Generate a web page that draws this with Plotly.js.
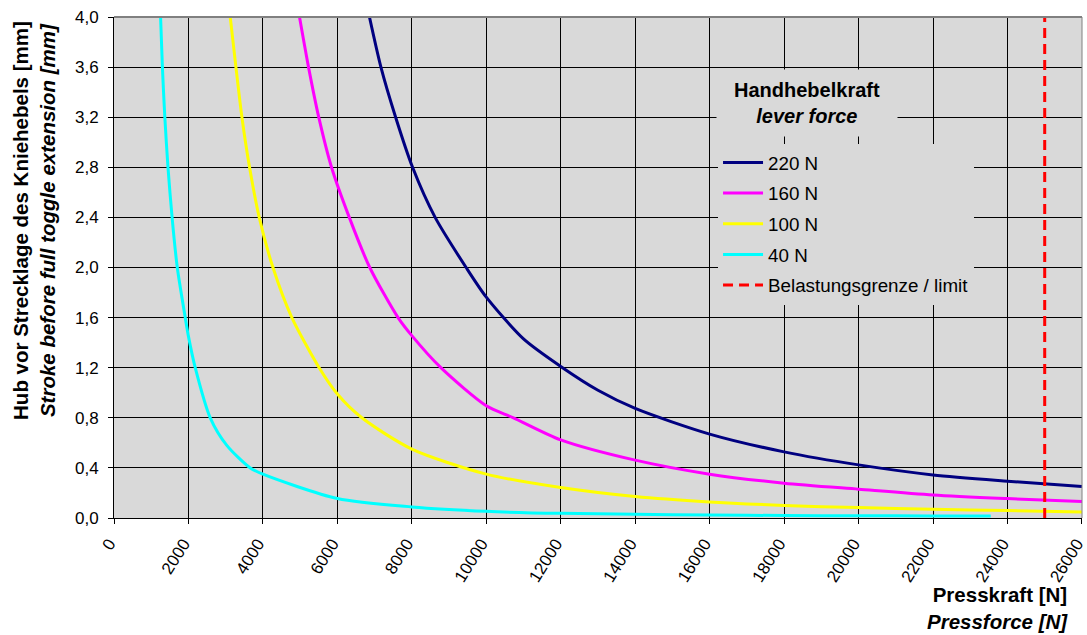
<!DOCTYPE html>
<html>
<head>
<meta charset="utf-8">
<script src="https://cdn.plot.ly/plotly-3.0.1.min.js"></script>
<style>html,body{margin:0;padding:0;background:#fff;}#chart{width:1087px;height:635px;}</style>
</head>
<body>
<div id="chart"></div>
<script>
// Presskraft [N] / Hub [mm] per lever force
const x220 = [6862, 7170, 7565, 8020, 8626, 9458, 10000, 11000, 12000, 13000, 14000, 16000, 18000, 20000, 22000, 24000, 26000];
const y220 = [4.0, 3.6, 3.2, 2.8, 2.4, 2.0, 1.763, 1.43, 1.21, 1.02, 0.875, 0.67, 0.528, 0.424, 0.344, 0.294, 0.251];

const x160 = [4983, 5225, 5500, 5843, 6320, 6870, 7630, 8000, 8780, 10000, 10730, 12000, 14000, 16000, 18000, 20000, 22000, 24000, 26000];
const y160 = [4.0, 3.6, 3.2, 2.8, 2.4, 2.0, 1.6, 1.456, 1.2, 0.896, 0.8, 0.624, 0.462, 0.35, 0.278, 0.23, 0.184, 0.155, 0.131];

const x100 = [3122, 3275, 3436, 3641, 3901, 4270, 4778, 5511, 6000, 6658, 8000, 10000, 12000, 14000, 16000, 18000, 20000, 22000, 24000, 26000];
const y100 = [4.0, 3.6, 3.2, 2.8, 2.4, 2.0, 1.6, 1.2, 0.99, 0.8, 0.55, 0.35, 0.243, 0.171, 0.128, 0.10, 0.083, 0.07, 0.059, 0.048];

const x40 = [1251, 1300, 1365, 1450, 1560, 1700, 1914, 2000, 2182, 2585, 3030, 3660, 4000, 6000, 8000, 10000, 12000, 14000, 16000, 18000, 20000, 22000, 23550];
const y40 = [4.0, 3.6, 3.2, 2.8, 2.4, 2.0, 1.6, 1.45, 1.2, 0.8, 0.58, 0.4, 0.35, 0.155, 0.088, 0.053, 0.037, 0.03, 0.024, 0.02, 0.018, 0.016, 0.015];

const limitX = [25000, 25000];
const limitY = [0, 4.0];

const seriesNames = ['220 N', '160 N', '100 N', '40 N', 'Belastungsgrenze / limit'];
const seriesColors = ['#000080', '#ff00ff', '#ffff00', '#00ffff', '#ff0000'];

const xTicks = [0, 2000, 4000, 6000, 8000, 10000, 12000, 14000, 16000, 18000, 20000, 22000, 24000, 26000];
const yTicks = [0, 0.4, 0.8, 1.2, 1.6, 2.0, 2.4, 2.8, 3.2, 3.6, 4.0];

const FONT = 'Arial, "Liberation Sans", sans-serif';

const xs = [x220, x160, x100, x40, limitX];
const ys = [y220, y160, y100, y40, limitY];

const traces = xs.map((xv, i) => ({
  type: 'scatter',
  mode: 'lines',
  x: xv,
  y: ys[i],
  name: seriesNames[i],
  legendgroup: 'g' + i,
  line: {
    color: seriesColors[i],
    width: 3,
    shape: i < 4 ? 'spline' : 'linear',
    smoothing: 0.75,
    dash: i === 4 ? '10px,6px' : 'solid'
  },
  hoverinfo: 'x+y+name'
}));

const layout = {
  width: 1087,
  height: 635,
  margin: {l: 114, r: 5, t: 17, b: 117},
  paper_bgcolor: '#ffffff',
  plot_bgcolor: '#d9d9d9',
  separators: ',.',
  font: {family: FONT, size: 17, color: '#000'},
  showlegend: true,
  legend: {
    x: 0.624, y: 0.747, xanchor: 'left', yanchor: 'top',
    bgcolor: '#d9d9d9',
    borderwidth: 0,
    font: {family: FONT, size: 18.8, color: '#000'},
    tracegroupgap: 3.2,
    itemwidth: 40
  },
  xaxis: {
    range: [0, 26002],
    tickvals: xTicks,
    tickformat: 'd',
    tickangle: -58,
    ticklabeloverflow: 'allow',
    ticklabelshift: -5,
    ticklabelstandoff: 3,
    ticks: 'outside', ticklen: 5, tickcolor: '#000', tickwidth: 1,
    showgrid: true, gridcolor: '#000', gridwidth: 1,
    zeroline: false,
    showline: true, linecolor: '#000', linewidth: 1,
    tickfont: {family: FONT, size: 17, color: '#000'},
    fixedrange: true
  },
  yaxis: {
    range: [0, 4.0],
    tickvals: yTicks,
    tickformat: '.1f',
    ticks: 'outside', ticklen: 5, tickcolor: '#000', tickwidth: 1,
    ticklabelstandoff: 6,
    showgrid: true, gridcolor: '#000', gridwidth: 1,
    zeroline: false,
    showline: true, linecolor: '#000', linewidth: 1,
    tickfont: {family: FONT, size: 17, color: '#000'},
    fixedrange: true
  },
  shapes: [
    {type: 'line', xref: 'paper', yref: 'paper', x0: 0, x1: 1, y0: 1, y1: 1, line: {color: '#808080', width: 2}},
    {type: 'line', xref: 'paper', yref: 'paper', x0: 1, x1: 1, y0: 0, y1: 1, line: {color: '#808080', width: 1}}
  ],
  annotations: [
    {
      xref: 'paper', yref: 'paper', x: -0.0826, y: 0.593,
      xanchor: 'center', yanchor: 'middle', textangle: -90, showarrow: false,
      text: '<b>Hub vor Strecklage des Kniehebels [mm]</b><br><b><i>Stroke before full toggle extension [mm]</i></b>',
      font: {family: FONT, size: 20.5, color: '#000'}
    },
    {
      xref: 'paper', yref: 'paper', x: (1070 - 114) / 968, y: -0.1805,
      xanchor: 'right', yanchor: 'middle', align: 'right', showarrow: false,
      text: '<b>Presskraft [N]</b><br><b><i>Pressforce [N]</i></b>',
      font: {family: FONT, size: 20.5, color: '#000'}
    },
    {
      xref: 'paper', yref: 'paper', x: (807 - 114) / 968, y: (518.5 - 103) / 501.5,
      xanchor: 'center', yanchor: 'middle', showarrow: false,
      bgcolor: '#d9d9d9', width: 178, height: 64,
      text: '<b>Handhebelkraft</b><br><b><i>lever force</i></b>',
      font: {family: FONT, size: 20, color: '#000'}
    }
  ]
};

Plotly.newPlot('chart', traces, layout, {displayModeBar: false, staticPlot: true});
</script>
</body>
</html>
